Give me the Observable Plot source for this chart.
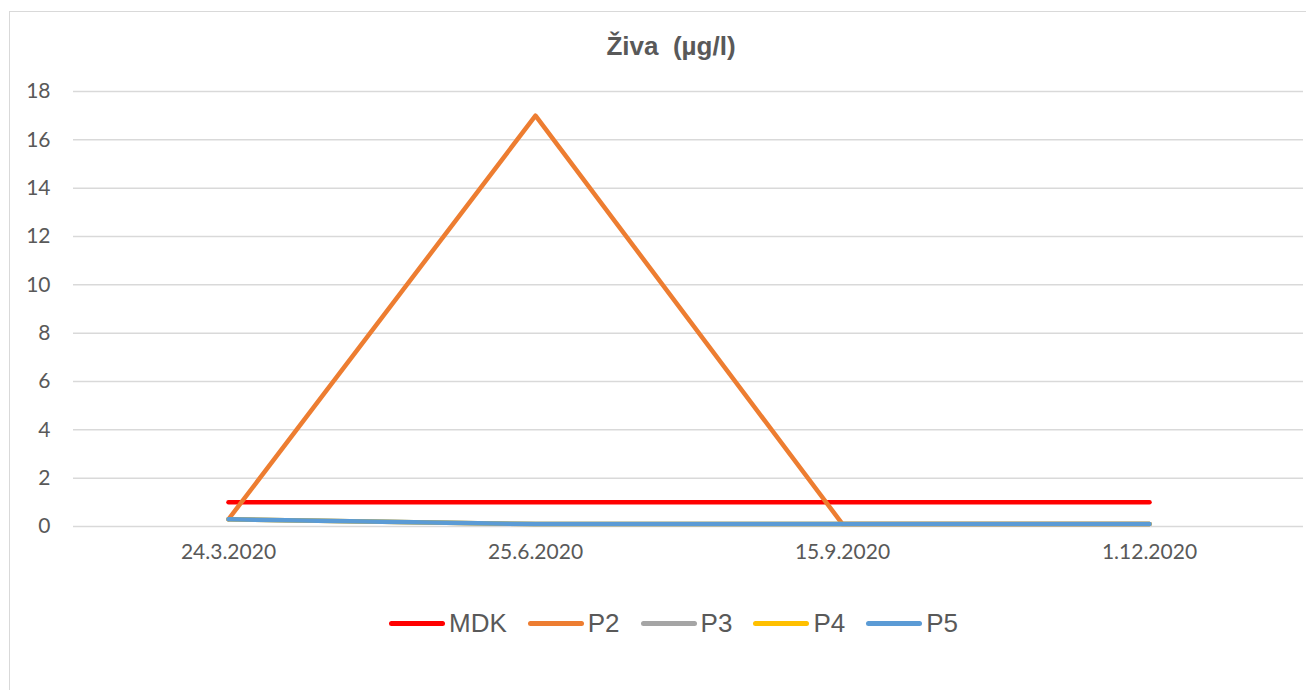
<!DOCTYPE html>
<html>
<head>
<meta charset="utf-8">
<script src="https://cdn.jsdelivr.net/npm/d3@7"></script>
<script src="https://cdn.jsdelivr.net/npm/@observablehq/plot@0.6"></script>
<style>
  html, body { margin: 0; padding: 0; background: #fff; width: 1306px; height: 690px; overflow: hidden; }
  #frame { position: absolute; left: 9px; top: 11px; width: 1310px; height: 700px; border: 1px solid #d9d9d9; box-sizing: border-box; }
  #title { position: absolute; left: 0; width: 1342px; top: 31px; line-height: 32px; text-align: center; font: bold 26px "Liberation Sans", Arial, sans-serif; color: #595959; white-space: pre; }
  #chart { position: absolute; left: 0; top: 0; }
  #legend { position: absolute; left: 389px; top: 608px; line-height: 32px; display: flex; align-items: center; font: 26px "Liberation Sans", Arial, sans-serif; color: #595959; }
  .item { display: flex; align-items: center; margin-right: 21px; }
  .sw { width: 56px; height: 5px; border-radius: 3px; margin-right: 4px; }
</style>
</head>
<body>
<div id="frame"></div>
<div id="title">Živa  (µg/l)</div>
<div id="chart"></div>
<div id="legend"></div>
<script>
const dates = ["24.3.2020", "25.6.2020", "15.9.2020", "1.12.2020"];
const seriesNames = ["MDK", "P2", "P3", "P4", "P5"];
const seriesColors = ["#ff0000", "#ed7d31", "#a5a5a5", "#ffc000", "#5b9bd5"];
const MDK = [1, 1, 1, 1];
const P2 = [0.3, 17, 0.1, 0.1];
const P3 = [0.3, 0.1, 0.1, 0.1];
const P4 = [0.3, 0.1, 0.1, 0.1];
const P5 = [0.3, 0.1, 0.1, 0.1];
const yTicks = [0, 2, 4, 6, 8, 10, 12, 14, 16, 18];

const seriesValues = [MDK, P2, P3, P4, P5];
const rows = [];
seriesNames.forEach((s, i) => dates.forEach((d, j) => rows.push({series: s, date: d, value: seriesValues[i][j]})));

const chart = Plot.plot({
  width: 1306,
  height: 580,
  marginLeft: 73,
  marginRight: 3,
  marginTop: 91,
  marginBottom: 54,
  style: {fontFamily: "Lato, 'Open Sans', sans-serif", fontSize: "21px", color: "#595959", background: "transparent"},
  x: {type: "point", domain: dates, padding: 0.5, label: null},
  y: {domain: [0, 18], ticks: yTicks, label: null},
  color: {domain: seriesNames, range: seriesColors},
  marks: [
    Plot.gridY(yTicks, {stroke: "#d9d9d9", strokeOpacity: 1, strokeWidth: 1.5}),
    Plot.axisY(yTicks, {tickSize: 0, tickPadding: 23, label: null, fontSize: 21}),
    Plot.axisX({tickSize: 0, tickPadding: 18, label: null, fontSize: 21}),
    Plot.lineY(rows, {x: "date", y: "value", z: "series", stroke: "series", strokeWidth: 4.5, strokeLinecap: "round", strokeLinejoin: "round"})
  ]
});
document.getElementById("chart").appendChild(chart);

const legend = document.getElementById("legend");
seriesNames.forEach((s, i) => {
  const it = document.createElement("div");
  it.className = "item";
  const sw = document.createElement("div");
  sw.className = "sw";
  sw.style.background = seriesColors[i];
  const t = document.createElement("span");
  t.textContent = s;
  it.appendChild(sw); it.appendChild(t);
  legend.appendChild(it);
});
</script>
</body>
</html>
